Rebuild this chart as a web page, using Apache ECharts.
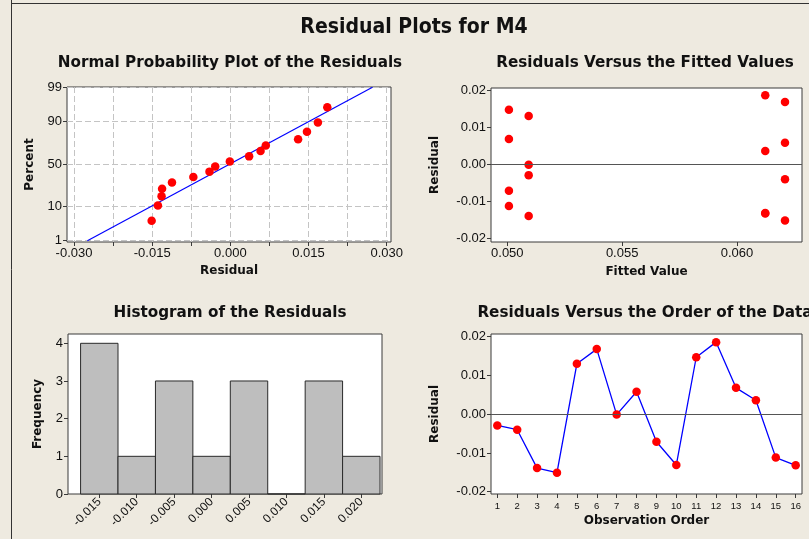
<!DOCTYPE html>
<html>
<head>
<meta charset="utf-8">
<script src="https://cdn.jsdelivr.net/npm/echarts@6/dist/echarts.min.js"></script>
<style>
  html, body { margin: 0; padding: 0; background: #EEEAE0; }
  #chart { width: 809px; height: 539px; }
</style>
</head>
<body>
<div id="chart"></div>
<script>
// Residuals of model M4, in observation order
const residuals = [-0.0029, -0.0040, -0.0139, -0.0151, 0.0130, 0.0168, -0.0001, 0.0058,
                   -0.0071, -0.0131, 0.0147, 0.0186, 0.0068, 0.0036, -0.0112, -0.0132];
// Fitted values, same order
const fittedValues = [0.05093, 0.06209, 0.05093, 0.06209, 0.05093, 0.06209, 0.05093, 0.06209,
                      0.05007, 0.06123, 0.05007, 0.06123, 0.05007, 0.06123, 0.05007, 0.06123];
const observationOrder = [1, 2, 3, 4, 5, 6, 7, 8, 9, 10, 11, 12, 13, 14, 15, 16];

// Histogram bins
const histBinCenters = [-0.015, -0.010, -0.005, 0.000, 0.005, 0.010, 0.015, 0.020];
const histCounts = [4, 1, 3, 1, 3, 0, 3, 1];
const histBinWidth = 0.005;

// Tick values
const percentTicks = [1, 10, 50, 90, 99];
const normalResidualTicks = [-0.030, -0.0225, -0.015, -0.0075, 0.000, 0.0075, 0.015, 0.0225, 0.030];
const normalResidualLabels = [-0.030, -0.015, 0.000, 0.015, 0.030];
const fittedTicks = [0.050, 0.055, 0.060];
const residualTicks = [-0.02, -0.01, 0.00, 0.01, 0.02];
const frequencyTicks = [0, 1, 2, 3, 4];

// Inverse standard normal CDF (Acklam's rational approximation)
function normInv(p) {
  const a = [-3.969683028665376e+01, 2.209460984245205e+02, -2.759285104469687e+02,
             1.383577518672690e+02, -3.066479806614716e+01, 2.506628277459239e+00];
  const b = [-5.447609879822406e+01, 1.615858368580409e+02, -1.556989798598866e+02,
             6.680131188771972e+01, -1.328068155288572e+01];
  const c = [-7.784894002430293e-03, -3.223964580411365e-01, -2.400758277161838e+00,
             -2.549732539343734e+00, 4.374664141464968e+00, 2.938163982698783e+00];
  const d = [7.784695709041462e-03, 3.224671290700398e-01, 2.445134137142996e+00,
             3.754408661907416e+00];
  const pl = 0.02425, ph = 1 - pl;
  let q, r;
  if (p < pl) {
    q = Math.sqrt(-2 * Math.log(p));
    return (((((c[0]*q+c[1])*q+c[2])*q+c[3])*q+c[4])*q+c[5]) / ((((d[0]*q+d[1])*q+d[2])*q+d[3])*q+1);
  }
  if (p > ph) {
    q = Math.sqrt(-2 * Math.log(1 - p));
    return -(((((c[0]*q+c[1])*q+c[2])*q+c[3])*q+c[4])*q+c[5]) / ((((d[0]*q+d[1])*q+d[2])*q+d[3])*q+1);
  }
  q = p - 0.5; r = q * q;
  return (((((a[0]*r+a[1])*r+a[2])*r+a[3])*r+a[4])*r+a[5])*q /
         (((((b[0]*r+b[1])*r+b[2])*r+b[3])*r+b[4])*r+1);
}

// Normal scores (median ranks) for the probability plot
const n = residuals.length;
const sortedResiduals = residuals.slice().sort((x, y) => x - y);
const normalPoints = sortedResiduals.map((v, i) => [v, normInv((i + 1 - 0.3) / (n + 0.4))]);
const percentZ = percentTicks.map(p => normInv(p / 100));

// Reference line from the residual mean and standard deviation
const mean = residuals.reduce((s, v) => s + v, 0) / n;
const sd = Math.sqrt(residuals.reduce((s, v) => s + (v - mean) * (v - mean), 0) / (n - 1));
const zLo = percentZ[0], zHi = percentZ[percentZ.length - 1];
const normalLine = [[mean + sd * zLo, zLo], [mean + sd * zHi, zHi]];

const fittedPoints = residuals.map((r, i) => [fittedValues[i], r]);
const orderPoints = residuals.map((r, i) => [observationOrder[i], r]);
const histData = histBinCenters.map((c, i) => [c, histCounts[i]]);

const TICK_FONT = '"Liberation Sans", Arial, sans-serif';
const BOLD_FONT = '"DejaVu Sans", Verdana, sans-serif';
const FRAME = '#3a3a3a';

function axisLabel(values, extra) {
  return Object.assign({
    customValues: values, color: '#111', fontFamily: TICK_FONT, fontSize: 13, margin: 5
  }, extra || {});
}
function axisTick(values) {
  return { show: true, customValues: values, length: 4, inside: false, lineStyle: { color: FRAME } };
}
function axisName(text, gap) {
  return {
    name: text, nameLocation: 'middle', nameGap: gap,
    nameTextStyle: { fontFamily: BOLD_FONT, fontWeight: 'bold', fontSize: 12, color: '#111' }
  };
}
const noLine = { show: false, onZero: false };
const dashed = { show: true, lineStyle: { color: '#C4C4C4', type: [6, 3], width: 1 } };
const gridBase = { show: true, backgroundColor: '#FFFFFF', borderColor: FRAME, borderWidth: 1, containLabel: false };

function fmt3(v) { return (Math.abs(v) < 1e-9 ? 0 : v).toFixed(3); }
function fmt2(v) { return (Math.abs(v) < 1e-9 ? 0 : v).toFixed(2); }

const zeroLine = {
  silent: true, symbol: 'none', label: { show: false },
  lineStyle: { color: '#555', type: 'solid', width: 1 },
  data: [{ yAxis: 0 }]
};

const chart = echarts.init(document.getElementById('chart'), null, { renderer: 'canvas' });

// Bold heading centred on (x, y), narrowed horizontally by sx
function titleText(x, y, text, size, sx) {
  return {
    type: 'text', x: x, y: y, scaleX: sx, silent: true,
    style: {
      text: text, fill: '#111', textAlign: 'center', textVerticalAlign: 'middle',
      font: 'bold ' + size + 'px ' + BOLD_FONT
    }
  };
}

chart.setOption({
  animation: false,
  backgroundColor: '#EEEAE0',
  graphic: [
    { type: 'line', silent: true, shape: { x1: 11.5, y1: 0, x2: 11.5, y2: 539 }, style: { stroke: '#333', lineWidth: 1 } },
    { type: 'line', silent: true, shape: { x1: 11, y1: 3.5, x2: 809, y2: 3.5 }, style: { stroke: '#333', lineWidth: 1 } },
    titleText(414, 27, 'Residual Plots for M4', 22, 0.86),
    titleText(230, 63, 'Normal Probability Plot of the Residuals', 16, 0.95),
    titleText(645, 63, 'Residuals Versus the Fitted Values', 16, 0.95),
    titleText(230, 313, 'Histogram of the Residuals', 16, 0.95),
    titleText(645, 313, 'Residuals Versus the Order of the Data', 16, 0.95)
  ],
  grid: [
    Object.assign({ left: 67, top: 87, width: 324, height: 155 }, gridBase),
    Object.assign({ left: 491, top: 88, width: 311, height: 154 }, gridBase),
    Object.assign({ left: 68, top: 334, width: 314, height: 160 }, gridBase),
    Object.assign({ left: 491, top: 334, width: 311, height: 160 }, gridBase)
  ],
  xAxis: [
    Object.assign({
      gridIndex: 0, type: 'value', min: -0.031343, max: 0.030825,
      axisLine: noLine, axisTick: axisTick(normalResidualTicks),
      axisLabel: axisLabel(normalResidualLabels, { formatter: fmt3 }),
      splitLine: dashed
    }, axisName('Residual', 23)),
    Object.assign({
      gridIndex: 1, type: 'value', min: 0.04929, max: 0.06283,
      axisLine: noLine, axisTick: axisTick(fittedTicks),
      axisLabel: axisLabel(fittedTicks, { formatter: fmt3 }),
      splitLine: { show: false }
    }, axisName('Fitted Value', 24)),
    Object.assign({
      gridIndex: 2, type: 'value', min: -0.019181, max: 0.022765,
      axisLine: noLine, axisTick: axisTick(histBinCenters),
      axisLabel: axisLabel(histBinCenters, { formatter: fmt3, rotate: 45, fontSize: 12, margin: 6 }),
      splitLine: { show: false }
    }),
    Object.assign({
      gridIndex: 3, type: 'value', min: 0.6833, max: 16.317,
      axisLine: noLine, axisTick: axisTick(observationOrder),
      axisLabel: axisLabel(observationOrder, { fontSize: 9.5, margin: 7 }),
      splitLine: { show: false }
    }, axisName('Observation Order', 21))
  ],
  yAxis: [
    Object.assign({
      gridIndex: 0, type: 'value', min: -2.3657, max: 2.3354,
      axisLine: noLine, axisTick: axisTick(percentZ),
      axisLabel: axisLabel(percentZ, {
        formatter: v => {
          const i = percentZ.findIndex(z => Math.abs(z - v) < 1e-3);
          return i >= 0 ? String(percentTicks[i]) : '';
        }
      }),
      splitLine: dashed
    }, axisName('Percent', 31)),
    Object.assign({
      gridIndex: 1, type: 'value', min: -0.02089, max: 0.02054,
      axisLine: noLine, axisTick: axisTick(residualTicks),
      axisLabel: axisLabel(residualTicks, { formatter: fmt2 }),
      splitLine: { show: false }
    }, axisName('Residual', 50)),
    Object.assign({
      gridIndex: 2, type: 'value', min: 0, max: 4.247,
      axisLine: noLine, axisTick: axisTick(frequencyTicks),
      axisLabel: axisLabel(frequencyTicks),
      splitLine: { show: false }
    }, axisName('Frequency', 24)),
    Object.assign({
      gridIndex: 3, type: 'value', min: -0.02059, max: 0.0207,
      axisLine: noLine, axisTick: axisTick(residualTicks),
      axisLabel: axisLabel(residualTicks, { formatter: fmt2 }),
      splitLine: { show: false }
    }, axisName('Residual', 50))
  ],
  series: [
    {
      name: 'fit', type: 'line', xAxisIndex: 0, yAxisIndex: 0, data: normalLine,
      showSymbol: false, symbol: 'none', lineStyle: { color: '#0000FF', width: 1.2 }, z: 2
    },
    {
      name: 'normal', type: 'scatter', xAxisIndex: 0, yAxisIndex: 0, data: normalPoints,
      symbolSize: 8.5, itemStyle: { color: '#FF0000', opacity: 1 }, z: 3
    },
    {
      name: 'fitted', type: 'scatter', xAxisIndex: 1, yAxisIndex: 1, data: fittedPoints,
      symbolSize: 8.5, itemStyle: { color: '#FF0000', opacity: 1 }, markLine: zeroLine, z: 3
    },
    {
      name: 'histogram', type: 'custom', xAxisIndex: 2, yAxisIndex: 2, data: histData,
      renderItem: (params, api) => {
        const c = api.value(0), cnt = api.value(1);
        const p0 = api.coord([c - histBinWidth / 2, cnt]);
        const p1 = api.coord([c + histBinWidth / 2, 0]);
        return {
          type: 'rect',
          shape: { x: p0[0], y: p0[1], width: p1[0] - p0[0], height: p1[1] - p0[1] },
          style: { fill: '#BEBEBE', stroke: '#2a2a2a', lineWidth: 1 }
        };
      }
    },
    {
      name: 'order', type: 'line', xAxisIndex: 3, yAxisIndex: 3, data: orderPoints,
      symbol: 'circle', symbolSize: 8.5, showSymbol: true,
      itemStyle: { color: '#FF0000', borderWidth: 0 },
      lineStyle: { color: '#0000FF', width: 1.3 },
      markLine: zeroLine, z: 3
    }
  ]
});
</script>
</body>
</html>
